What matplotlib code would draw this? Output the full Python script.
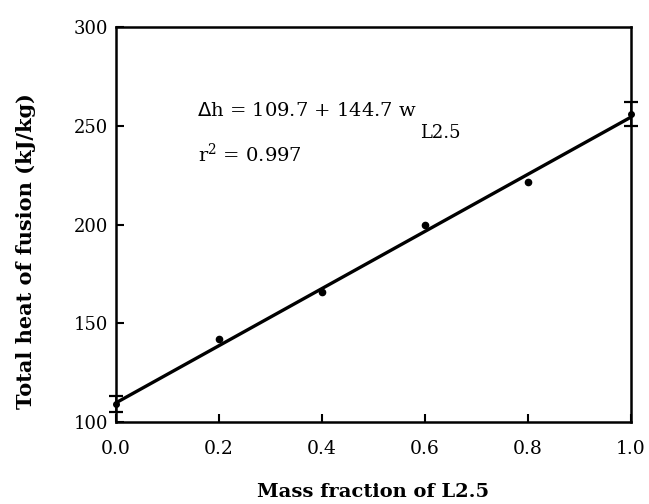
import matplotlib.pyplot as plt
import numpy as np

# datos
mass_fraction = [0.0, 0.2, 0.4, 0.6, 0.8, 1.0]
heat_fusion = [109.0, 142.0, 166.0, 200.0, 221.5, 256.0]
heat_err = [4.0, 1.0, 1.5, 0.8, 0.8, 6.0]

# ajuste lineal publicado
intercept = 109.7
slope = 144.7

xticks = [0.0, 0.2, 0.4, 0.6, 0.8, 1.0]
yticks = [100, 150, 200, 250, 300]

plt.rcParams['font.family'] = ['DejaVu Serif']

fig = plt.figure(figsize=(6.49, 5.04), dpi=100)
ax = fig.add_axes([0.179, 0.163, 0.793, 0.783])

x_fit = np.array([0.0, 1.0])
ax.plot(x_fit, intercept + slope * x_fit, color="black", linewidth=2.4, zorder=2)

# extremos con barras de error y tapas, puntos interiores casi sin barra
ends = [0, len(mass_fraction) - 1]
inner = list(range(1, len(mass_fraction) - 1))
ax.errorbar([mass_fraction[i] for i in ends], [heat_fusion[i] for i in ends],
            yerr=[heat_err[i] for i in ends], fmt="o", color="black",
            markersize=4, capsize=5, elinewidth=1.2, capthick=1.6, zorder=3,
            clip_on=False)
ax.errorbar([mass_fraction[i] for i in inner], [heat_fusion[i] for i in inner],
            yerr=[heat_err[i] for i in inner], fmt="o", color="black",
            markersize=4.5, capsize=0, elinewidth=1.2, zorder=3)

ax.set_xlim(0, 1.0)
ax.set_ylim(100, 300)
ax.set_xticks(xticks)
ax.set_xticklabels(["%.1f" % v for v in xticks], fontsize=13.5)
ax.set_yticks(yticks)
ax.set_yticklabels([str(v) for v in yticks], fontsize=13)
ax.tick_params(direction="in", length=6, width=1.5, top=False, right=False)
ax.tick_params(axis="x", pad=13)
ax.tick_params(axis="y", pad=6)

for side in ax.spines.values():
    side.set_linewidth(1.8)

ax.set_xlabel("Mass fraction of L2.5", fontsize=14, fontweight="bold", labelpad=18)
ax.set_ylabel("Total heat of fusion (kJ/kg)", fontsize=15, fontweight="bold")
ax.yaxis.set_label_coords(-0.155, 0.433)

ax.text(0.157, 0.775, r"$\Delta$h = 109.7 + 144.7 w", transform=ax.transAxes,
        fontsize=14, ha="left", va="baseline")
ax.text(0.59, 0.72, "L2.5", transform=ax.transAxes,
        fontsize=13, ha="left", va="baseline")
ax.text(0.159, 0.66, r"r$^{\mathregular{2}}$ = 0.997", transform=ax.transAxes,
        fontsize=14, ha="left", va="baseline")

plt.savefig("out.png", dpi=100)
